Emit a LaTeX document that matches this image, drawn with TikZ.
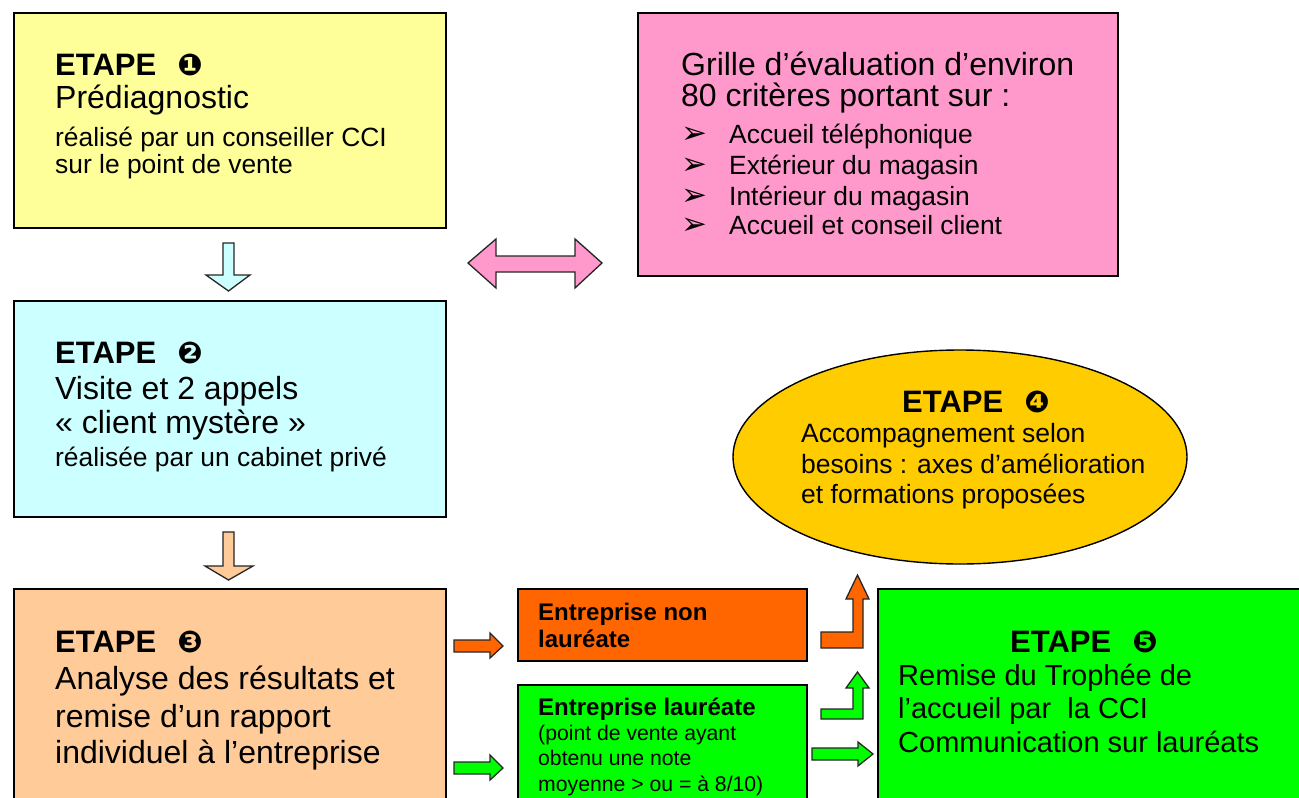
\documentclass[tikz,border=0pt]{standalone}
\usepackage{fontspec}
\setmainfont{Liberation Sans}
\newfontfamily\dv{DejaVu Sans}
\usetikzlibrary{shapes.geometric}
\definecolor{cyel}{HTML}{FFFF99}
\definecolor{cpink}{HTML}{FF99CC}
\definecolor{ccyan}{HTML}{CCFFFF}
\definecolor{cpeach}{HTML}{FFCC99}
\definecolor{cgold}{HTML}{FFCC00}
\definecolor{corange}{HTML}{FF6600}
\definecolor{cgreen}{HTML}{00FF00}
\tikzset{
  box/.style={draw=black, line width=1.8pt, rectangle, anchor=north west, inner sep=0},
  txt/.style={anchor=base west, inner sep=0, text=black},
  blockarrow/.style={draw=black!85, line width=1.3pt, line join=miter},
}
\newcommand{\etape}[1]{\fontsize{31}{36}\selectfont\bfseries ETAPE\hspace{21pt}{\dv\fontsize{30}{36}\selectfont #1}}
\newcommand{\bigtxt}{\fontsize{32}{37}\selectfont}
\newcommand{\smalltxt}{\fontsize{26.4}{30}\selectfont}
\begin{document}
\begin{tikzpicture}[x=1pt, y=-1pt]
\clip (0,0) rectangle (1299,798);
\fill[white] (0,0) rectangle (1299,798);

% boxes
\node[box, fill=cyel, minimum width=432, minimum height=215] (b1) at (13,12) {};
\node[box, fill=ccyan, minimum width=432, minimum height=216] (b2) at (13,300) {};
\node[box, fill=cpeach, minimum width=432, minimum height=240] (b3) at (13,588) {};
\node[box, fill=cpink, minimum width=480, minimum height=263] (bp) at (637,12) {};
\node[draw=black, line width=1.4pt, fill=cgold, ellipse, minimum width=454, minimum height=214, inner sep=0] (e4) at (960,457) {};
\node[box, fill=corange, minimum width=289, minimum height=72] (nl) at (517,588) {};
\node[box, fill=cgreen, minimum width=289, minimum height=160] (la) at (517,684) {};
\node[box, fill=cgreen, minimum width=440, minimum height=240] (b5) at (877,588) {};

% box 1 text
\node[txt] (t11) at (55,75) {\etape{❶}};
\node[txt] (t12) at (55,108) {\bigtxt Prédiagnostic};
\node[txt] (t13) at (55,146) {\smalltxt réalisé par un conseiller CCI};
\node[txt] (t14) at (55,173) {\smalltxt sur le point de vente};

% box 2 text
\node[txt] (t21) at (55,363) {\etape{❷}};
\node[txt] (t22) at (55,399) {\bigtxt Visite et 2 appels};
\node[txt] (t23) at (55,433) {\bigtxt «~client mystère~»};
\node[txt] (t24) at (55,466) {\smalltxt réalisée par un cabinet privé};

% box 3 text
\node[txt] (t31) at (55,652) {\etape{❸}};
\node[txt] (t32) at (55,689) {\bigtxt Analyse des résultats et};
\node[txt] (t33) at (55,727) {\bigtxt remise d’un rapport};
\node[txt] (t34) at (55,763) {\bigtxt individuel à l’entreprise};

% pink text
\node[txt] (tp1) at (681,75) {\fontsize{32}{28}\selectfont\begin{tabular}[t]{@{}l@{}}Grille d’évaluation d’environ\\ 80 critères portant sur :\end{tabular}};
\foreach \yy/\tt [count=\i] in {143/Accueil téléphonique, 174/Extérieur du magasin, 205/Intérieur du magasin, 234/Accueil et conseil client}{
  \node[txt] (pb\i) at (681,\yy) {\dv\fontsize{31}{34}\selectfont ➢};
  \node[txt] (pt\i) at (729,\yy) {\smalltxt \tt};
}

% ellipse text
\node[txt] (t41) at (902,412) {\etape{❹}};
\node[txt] (t42) at (801,442) {\fontsize{26.5}{30}\selectfont Accompagnement selon};
\node[txt] (t43) at (801,473) {\fontsize{26.5}{30}\selectfont besoins : axes d’amélioration};
\node[txt] (t44) at (801,503) {\fontsize{26.5}{30}\selectfont et formations proposées};

% box 5 text
\node[txt] (t51) at (1010,652) {\etape{❺}};
\node[txt] (t52) at (898,685) {\fontsize{29}{33}\selectfont Remise du Trophée de};
\node[txt] (t53) at (898,718) {\fontsize{29}{33}\selectfont l’accueil par\ \ la CCI};
\node[txt] (t54) at (898,752) {\fontsize{29}{33}\selectfont Communication sur lauréats};

% non laureate
\node[txt] (n1) at (538,620) {\fontsize{24}{27}\selectfont\bfseries Entreprise non};
\node[txt] (n2) at (538,647) {\fontsize{24}{27}\selectfont\bfseries lauréate};
% laureate
\node[txt] (l1) at (538,715) {\fontsize{24}{27}\selectfont\bfseries Entreprise lauréate};
\node[txt] (l2) at (538,740) {\fontsize{21.2}{25}\selectfont (point de vente ayant};
\node[txt] (l3) at (538,765) {\fontsize{21.2}{25}\selectfont obtenu une note};
\node[txt] (l4) at (538,791) {\fontsize{21.2}{25}\selectfont moyenne > ou = à 8/10)};

% double arrow (pink)
\draw[blockarrow, fill=cpink] (468,263) -- (496,239) -- (496,256) -- (575,256) -- (575,239) -- (602,263)
  -- (575,288) -- (575,272) -- (496,272) -- (496,288) -- cycle;

% down arrows
\draw[blockarrow, fill=ccyan] (223,243) -- (234,243) -- (234,275) -- (250,275) -- (228.5,291) -- (206,275) -- (223,275) -- cycle;
\draw[blockarrow, fill=cpeach] (223,532) -- (234,532) -- (234,566) -- (253,566) -- (228.5,580) -- (205,566) -- (223,566) -- cycle;

% small right arrows
\draw[blockarrow, fill=corange] (454,640) -- (490,640) -- (490,633) -- (503,646) -- (490,658) -- (490,652) -- (454,652) -- cycle;
\draw[blockarrow, fill=cgreen] (454,762) -- (490,762) -- (490,755) -- (503,768) -- (490,780) -- (490,774) -- (454,774) -- cycle;
\draw[blockarrow, fill=cgreen] (812,748) -- (858,748) -- (858,742) -- (873,754) -- (858,766) -- (858,760) -- (812,760) -- cycle;

% bent-up arrows
\draw[blockarrow, fill=corange] (821,648) -- (863,648) -- (863,599) -- (869,599) -- (857.5,575) -- (846,599) -- (853,599) -- (853,632) -- (821,632) -- cycle;
\draw[blockarrow, fill=cgreen] (821,719) -- (863,719) -- (863,688) -- (869,688) -- (857.5,672) -- (846,688) -- (853,688) -- (853,709) -- (821,709) -- cycle;
\end{tikzpicture}
\end{document}
